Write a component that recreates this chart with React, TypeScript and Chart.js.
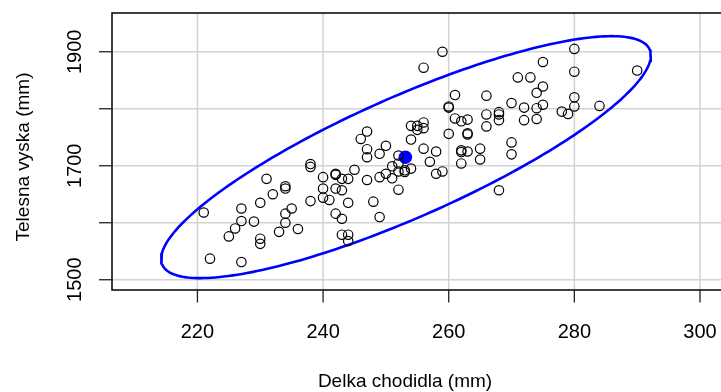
import React, { useEffect, useRef } from "react";
import { Chart, registerables } from "chart.js";

Chart.register(...registerables);

const xLimits = [210, 300];
const yLimits = [1500, 1950];
const xTicks = [220, 240, 260, 280, 300];
const xTickLabels = ["220", "240", "260", "280", "300"];
const yTicks = [1500, 1600, 1700, 1800, 1900];
const yTickLabels = ["1500", "", "1700", "", "1900"];
const xTitle = "Delka chodidla (mm)";
const yTitle = "Telesna vyska (mm)";

const footLength = [
  221, 222, 225, 226, 227, 227, 227, 229, 230, 230, 230, 231, 232, 233,
  234, 234, 234, 234, 235, 236, 238, 238, 238, 240, 240, 240, 241,
  242, 242, 242, 242, 243, 243, 243, 243, 244, 244, 244, 244, 245, 246,
  247, 247, 247, 247, 248, 249, 249, 249, 250, 250, 251, 251,
  252, 252, 252, 252, 253, 253, 254, 254, 254, 255, 255,
  256, 256, 256, 256, 257, 258, 258, 259, 259, 260, 260, 260, 261, 261,
  262, 262, 262, 262, 263, 263, 263, 263, 265, 265, 266, 266, 266,
  268, 268, 268, 268, 270, 270, 270, 271, 272, 272, 273, 274, 274, 274,
  275, 275, 275, 278, 279, 280, 280, 280, 280, 284, 290,
];
const bodyHeight = [
  1618, 1537, 1576, 1590, 1603, 1625, 1531, 1602, 1635, 1572, 1563, 1677, 1650, 1584,
  1664, 1660, 1616, 1600, 1625, 1589, 1703, 1698, 1638, 1680, 1660, 1644, 1640,
  1686, 1684, 1660, 1616, 1677, 1657, 1607, 1579, 1677, 1635, 1579, 1568, 1693, 1747,
  1760, 1729, 1715, 1675, 1637, 1721, 1680, 1610, 1735, 1686, 1699, 1678,
  1718, 1704, 1690, 1658, 1692, 1689, 1770, 1746, 1695, 1770, 1763,
  1776, 1766, 1872, 1730, 1707, 1725, 1686, 1900, 1690, 1804, 1802, 1756, 1824, 1783,
  1778, 1727, 1724, 1704, 1781, 1757, 1755, 1725, 1730, 1711, 1823, 1790, 1769,
  1794, 1790, 1780, 1657, 1810, 1741, 1720, 1855, 1802, 1780, 1855, 1828, 1801, 1782,
  1882, 1839, 1807, 1795, 1791, 1905, 1865, 1820, 1804, 1805, 1867,
];
const meanPoint = [253.1, 1715];
const ellipseCenter = [253.2, 1715.1];
const ellipseHalfWidth = 38.98;
const ellipseHalfHeight = 212.25;
const ellipseRho = 0.84;

const FONT = '"Liberation Sans", Arial, Helvetica, sans-serif';
const CANVAS_W = 724;
const CANVAS_H = 392;

function ellipsePoints() {
  const pts: { x: number; y: number }[] = [];
  const n = 240;
  const s = Math.sqrt(1 - ellipseRho * ellipseRho);
  for (let i = 0; i <= n; i++) {
    const t = (2 * Math.PI * i) / n;
    pts.push({
      x: ellipseCenter[0] + ellipseHalfWidth * Math.cos(t),
      y: ellipseCenter[1] + ellipseHalfHeight * (ellipseRho * Math.cos(t) + s * Math.sin(t)),
    });
  }
  return pts;
}

const rAxes = {
  id: "rAxes",
  beforeDatasetsDraw(chart: any) {
    const { ctx, chartArea, scales } = chart;
    ctx.save();
    ctx.strokeStyle = "#d3d3d3";
    ctx.lineWidth = 1.5;
    xTicks.forEach((v) => {
      const x = scales.x.getPixelForValue(v);
      ctx.beginPath();
      ctx.moveTo(x, chartArea.top);
      ctx.lineTo(x, chartArea.bottom);
      ctx.stroke();
    });
    yTicks.forEach((v) => {
      const y = scales.y.getPixelForValue(v);
      ctx.beginPath();
      ctx.moveTo(chartArea.left, y);
      ctx.lineTo(chartArea.right, y);
      ctx.stroke();
    });
    ctx.restore();
  },
  afterDraw(chart: any) {
    const { ctx, chartArea, scales } = chart;
    ctx.save();
    ctx.strokeStyle = "#000";
    ctx.lineWidth = 1.5;
    ctx.strokeRect(chartArea.left, chartArea.top, chartArea.right - chartArea.left, chartArea.bottom - chartArea.top);
    ctx.lineWidth = 1.3;
    ctx.strokeStyle = "#222";
    xTicks.forEach((v) => {
      const x = scales.x.getPixelForValue(v);
      ctx.beginPath();
      ctx.moveTo(x, chartArea.bottom);
      ctx.lineTo(x, chartArea.bottom + 12.5);
      ctx.stroke();
    });
    yTicks.forEach((v) => {
      const y = scales.y.getPixelForValue(v);
      ctx.beginPath();
      ctx.moveTo(chartArea.left, y);
      ctx.lineTo(chartArea.left - 13, y);
      ctx.stroke();
    });
    ctx.fillStyle = "#000";
    ctx.font = `20px ${FONT}`;
    ctx.textAlign = "center";
    ctx.textBaseline = "alphabetic";
    xTicks.forEach((v, i) => {
      const x = scales.x.getPixelForValue(v);
      ctx.fillText(xTickLabels[i], x, 337.5);
    });
    yTicks.forEach((v, i) => {
      if (!yTickLabels[i]) return;
      const y = scales.y.getPixelForValue(v);
      ctx.save();
      ctx.translate(81, y);
      ctx.rotate(-Math.PI / 2);
      ctx.fillText(yTickLabels[i], 0, 0);
      ctx.restore();
    });
    ctx.font = `19px ${FONT}`;
    ctx.fillText(xTitle, 405, 387.3);
    ctx.save();
    ctx.translate(29, 157);
    ctx.rotate(-Math.PI / 2);
    ctx.fillText(yTitle, 0, 0);
    ctx.restore();
    ctx.restore();
  },
};

export default function App() {
  const ref = useRef<HTMLCanvasElement | null>(null);
  useEffect(() => {
    if (!ref.current) return;
    const xr = xLimits[1] - xLimits[0];
    const yr = yLimits[1] - yLimits[0];
    const chart = new Chart(ref.current, {
      type: "scatter",
      data: {
        datasets: [
          {
            label: "data",
            data: footLength.map((x, i) => ({ x, y: bodyHeight[i] })),
            pointStyle: "circle",
            pointRadius: 4.7,
            pointBorderWidth: 1.2,
            pointBackgroundColor: "rgba(0,0,0,0)",
            pointBorderColor: "#000",
            showLine: false,
          },
          {
            label: "ellipse",
            type: "line",
            data: ellipsePoints(),
            borderColor: "#0000ff",
            borderWidth: 2.6,
            pointRadius: 0,
            tension: 0,
            fill: false,
          } as any,
          {
            label: "mean",
            data: [{ x: meanPoint[0], y: meanPoint[1] }],
            pointRadius: 6.8,
            pointBackgroundColor: "#0000ff",
            pointBorderColor: "#0000ff",
            pointBorderWidth: 0,
          },
        ],
      },
      options: {
        animation: false,
        responsive: false,
        devicePixelRatio: 1,
        layout: {
          autoPadding: false,
          padding: { left: 112, top: 13, right: CANVAS_W - 722.6, bottom: CANVAS_H - 290 },
        },
        plugins: { legend: { display: false }, tooltip: { enabled: false } },
        scales: {
          x: { type: "linear", display: false, min: xLimits[0] - 0.04 * xr, max: xLimits[1] + 0.04 * xr },
          y: { type: "linear", display: false, min: yLimits[0] - 0.04 * yr, max: yLimits[1] + 0.04 * yr },
        },
      },
      plugins: [rAxes],
    });
    return () => chart.destroy();
  }, []);
  return (
    <div style={{ position: "fixed", left: 0, top: 0, width: 721, height: 392, overflow: "hidden", background: "#fff" }}>
      <canvas ref={ref} width={CANVAS_W} height={CANVAS_H} style={{ width: CANVAS_W, height: CANVAS_H, display: "block" }} />
    </div>
  );
}
